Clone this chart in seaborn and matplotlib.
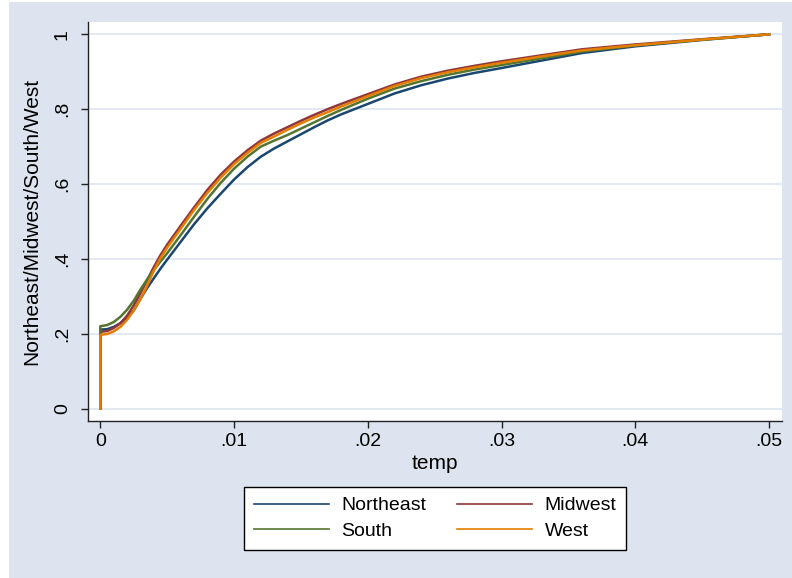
import matplotlib.pyplot as plt
import pandas as pd
import seaborn as sns
from matplotlib.lines import Line2D
from matplotlib.patches import Rectangle

# Data (cumulative shares by region)
temp = [0, 0, .0005, .001, .0015, .002, .0025, .003, .0035, .004, .0045, .005,
        .006, .007, .008, .009, .010, .011, .012, .013, .014, .015, .016, .017,
        .018, .019, .020, .022, .024, .026, .028, .030, .033, .036, .040, .045, .050]
northeast = [0, .211, .212, .218, .228, .243, .262, .293, .322, .348, .374, .398,
             .445, .492, .535, .574, .612, .645, .673, .695, .714, .733, .752, .770,
             .786, .800, .814, .842, .864, .882, .897, .910, .930, .950, .968, .985, 1.0]
midwest = [0, .205, .207, .215, .228, .248, .276, .308, .343, .378, .410, .438,
           .488, .537, .584, .625, .660, .690, .716, .735, .752, .769, .785, .800,
           .814, .827, .840, .866, .887, .903, .916, .928, .944, .960, .973, .987, 1.0]
south = [0, .220, .223, .231, .245, .264, .288, .318, .345, .370, .393, .415,
         .463, .512, .560, .603, .641, .673, .700, .716, .731, .748, .765, .782,
         .798, .813, .828, .855, .875, .892, .906, .918, .936, .954, .970, .986, 1.0]
west = [0, .197, .199, .206, .218, .237, .262, .292, .328, .368, .402, .430,
        .480, .530, .576, .617, .653, .683, .710, .727, .745, .762, .778, .792,
        .807, .821, .835, .862, .883, .899, .912, .924, .941, .957, .971, .986, 1.0]

regions = ['Northeast', 'Midwest', 'South', 'West']
colors = ['#1A476F', '#90353B', '#55752F', '#E37E00']
xticks = [0, .01, .02, .03, .04, .05]
xtick_labels = ['0', '.01', '.02', '.03', '.04', '.05']
yticks = [0, .2, .4, .6, .8, 1]
ytick_labels = ['0', '.2', '.4', '.6', '.8', '1']

series = dict(zip(regions, [northeast, midwest, south, west]))
df = pd.concat([pd.DataFrame({'temp': temp, 'value': v, 'region': r})
                for r, v in series.items()], ignore_index=True)

plt.rcParams['font.family'] = ['Liberation Sans', 'DejaVu Sans']
bg = '#DEE4EF'

fig = plt.figure(figsize=(7.92, 5.78), dpi=100, facecolor='white')
fig.patches.append(Rectangle((9 / 792, 0), 1, 576 / 578, transform=fig.transFigure,
                             facecolor=bg, edgecolor='none', zorder=-10))
ax = fig.add_axes([87.5 / 792, 1 - 420.5 / 578, (782 - 87.5) / 792, (420.5 - 22) / 578])
ax.set_facecolor('white')

sns.lineplot(data=df, x='temp', y='value', hue='region', hue_order=regions,
             palette=colors, estimator=None, sort=False, linewidth=1.8,
             legend=False, ax=ax)

ax.set_xlim(-0.000957, 0.05097)
ax.set_ylim(-0.032, 1.033)
ax.set_xticks(xticks, xtick_labels)
ax.set_yticks(yticks, ytick_labels)
ax.grid(axis='y', color=bg, linewidth=1.2)
ax.set_axisbelow(True)
for s in ['top', 'right']:
    ax.spines[s].set_visible(False)
for s in ['left', 'bottom']:
    ax.spines[s].set_color('#222222')
    ax.spines[s].set_linewidth(1.0)
ax.tick_params(axis='both', length=5, width=1.0, color='#222222', labelsize=14)
ax.tick_params(axis='x', pad=4)
ax.tick_params(axis='y', pad=7, labelrotation=90)
for lab in ax.get_yticklabels():
    lab.set_va('center')

ax.set_xlabel('temp', fontsize=15, labelpad=3)
ax.set_ylabel('Northeast/Midwest/South/West', fontsize=15, labelpad=9)

# legend: row-wise order like Stata
handles = [Line2D([], [], color=c, linewidth=1.2) for c in colors]
order = [0, 2, 1, 3]
leg = fig.legend([handles[i] for i in order], [regions[i] for i in order],
                 loc='center', bbox_to_anchor=(435 / 792, 1 - 518.5 / 578), ncol=2,
                 fontsize=14, frameon=True, fancybox=False, framealpha=1,
                 handlelength=3.9, handletextpad=0.62, columnspacing=1.55,
                 borderpad=0.5, labelspacing=0.42)
leg.get_frame().set_edgecolor('black')
leg.get_frame().set_linewidth(1.0)
leg.get_frame().set_facecolor('white')

fig.savefig('out.png', dpi=100, facecolor=fig.get_facecolor())
